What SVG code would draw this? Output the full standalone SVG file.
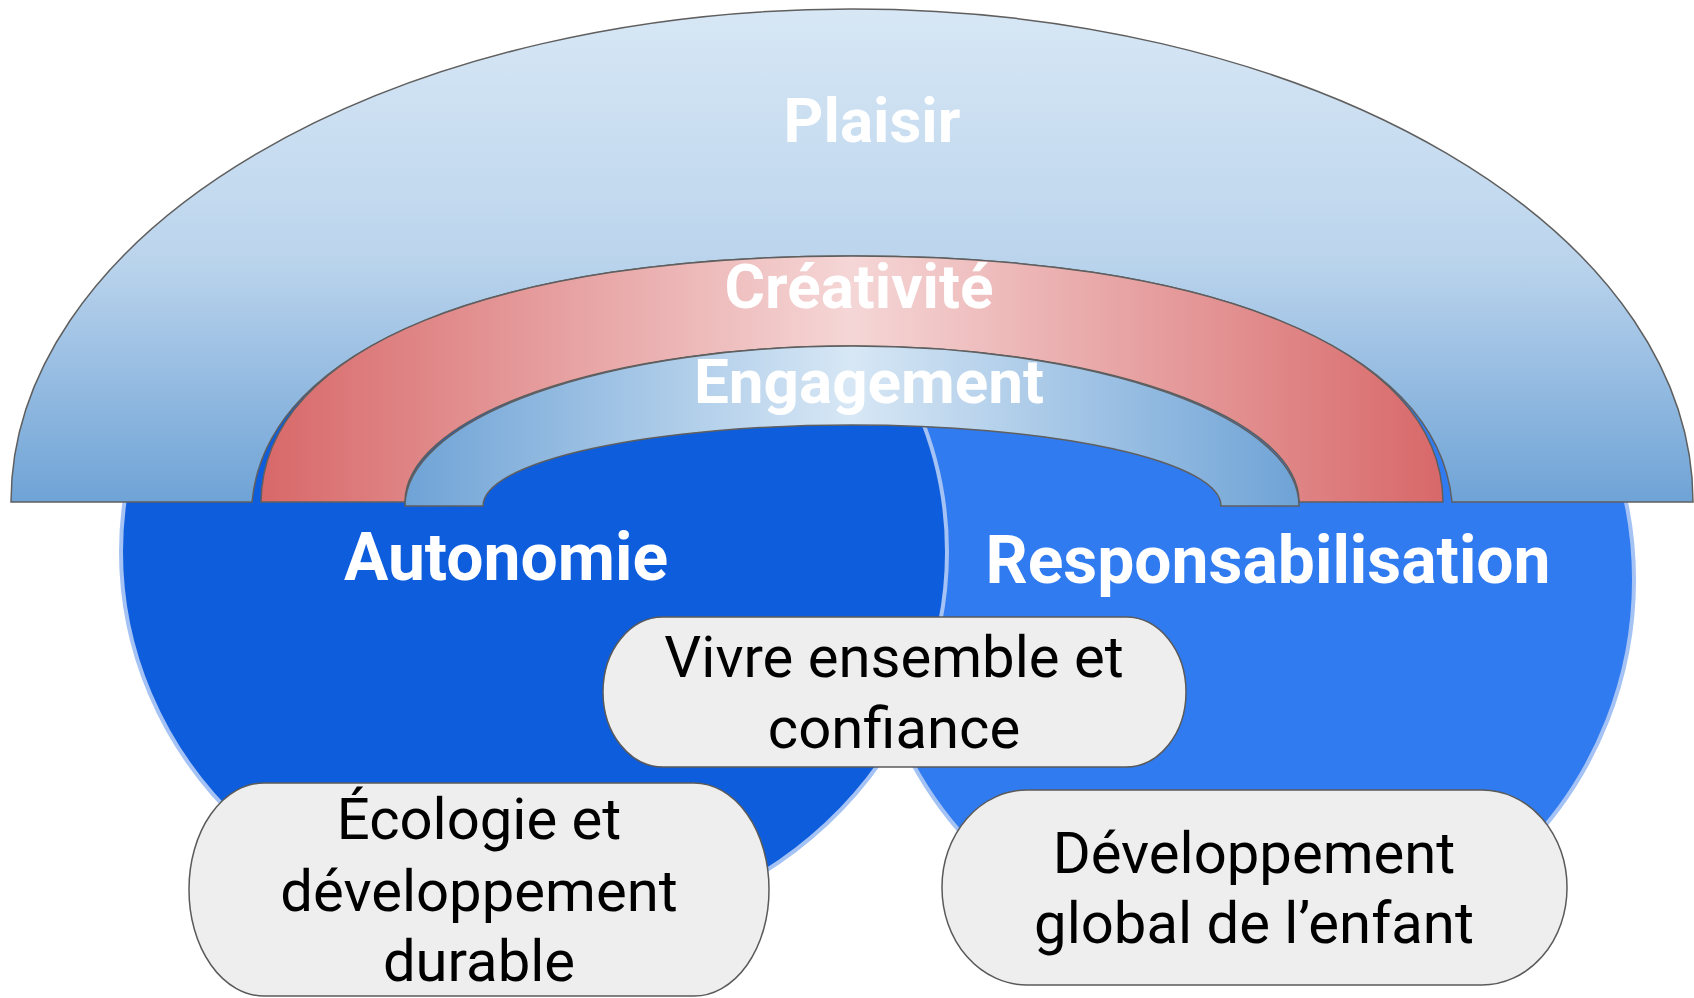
<svg xmlns="http://www.w3.org/2000/svg" width="1694" height="998" viewBox="0 0 1694 998">
  <defs>
    <linearGradient id="gPlaisir" x1="0" y1="0" x2="0" y2="1">
      <stop offset="0" stop-color="#d7e7f5"/>
      <stop offset="0.5" stop-color="#bcd5ed"/>
      <stop offset="1" stop-color="#6fa3d6"/>
    </linearGradient>
    <linearGradient id="gCrea" x1="0" y1="0" x2="1" y2="0">
      <stop offset="0" stop-color="#d86869"/>
      <stop offset="0.5" stop-color="#f5d6d6"/>
      <stop offset="1" stop-color="#d86869"/>
    </linearGradient>
    <linearGradient id="gEng" x1="0" y1="0" x2="1" y2="0">
      <stop offset="0" stop-color="#6fa3d6"/>
      <stop offset="0.5" stop-color="#d7e7f5"/>
      <stop offset="1" stop-color="#6fa3d6"/>
    </linearGradient>
  </defs>
  <style>
    .arch { stroke: #5f5f5f; stroke-width: 1.5; }
    .circle { stroke: #a4c2f4; stroke-width: 4; }
    .box { fill: #eeeeee; stroke: #5a5a5a; stroke-width: 1.5; }
    .big { font-family: Roboto, "Liberation Sans", sans-serif; font-weight: bold; fill: #ffffff; text-anchor: middle; }
    .lbl { font-family: Roboto, "Liberation Sans", sans-serif; font-size: 58px; fill: #000000; text-anchor: middle; }
  </style>
  <rect width="1694" height="998" fill="#ffffff"/>

  <g id="responsabilisation">
    <ellipse class="circle" cx="1250" cy="580" rx="384" ry="384" fill="#317bf0"/>
    <text class="big" x="1268" y="583" font-size="66">Responsabilisation</text>
  </g>
  <g id="autonomie">
    <ellipse class="circle" cx="534" cy="552" rx="413" ry="385" fill="#0d5ddd"/>
    <text class="big" x="506" y="580" font-size="66">Autonomie</text>
  </g>

  <g id="plaisir">
    <path class="arch" fill="url(#gPlaisir)" d="M11,502 A841,493 0 0 1 1693,502 L1452,502 C1437,345 1204,256 852,256 C500,256 267,345 252,502 Z"/>
    <text class="big" x="872" y="142" font-size="62">Plaisir</text>
  </g>
  <g id="creativite">
    <path class="arch" fill="url(#gCrea)" d="M261,502 C263,345 500,256 852,256 C1204,256 1441,345 1443,502 L1299,502 A447,156 0 0 0 405,502 Z"/>
    <text class="big" x="859" y="308" font-size="62">Créativité</text>
  </g>
  <g id="engagement">
    <path class="arch" fill="url(#gEng)" d="M405,506 A447,160 0 0 1 1299,506 L1221,506 A369,81 0 0 0 483,506 Z"/>
    <text class="big" x="869" y="403" font-size="62">Engagement</text>
  </g>

  <g id="vivre">
    <rect class="box" x="603" y="617" width="583" height="150" rx="60" ry="75"/>
    <text class="lbl" x="894" y="677">Vivre ensemble et</text>
    <text class="lbl" x="894" y="748">confiance</text>
  </g>
  <g id="ecologie">
    <rect class="box" x="189" y="783" width="580" height="213" rx="75" ry="106"/>
    <text class="lbl" x="479" y="839">Écologie et</text>
    <text class="lbl" x="479" y="911">développement</text>
    <text class="lbl" x="479" y="981">durable</text>
  </g>
  <g id="developpement">
    <rect class="box" x="942" y="790" width="625" height="195" rx="85" ry="97"/>
    <text class="lbl" x="1254" y="873">Développement</text>
    <text class="lbl" x="1254" y="943">global de l’enfant</text>
  </g>

  <g id="connectors"/>
</svg>
